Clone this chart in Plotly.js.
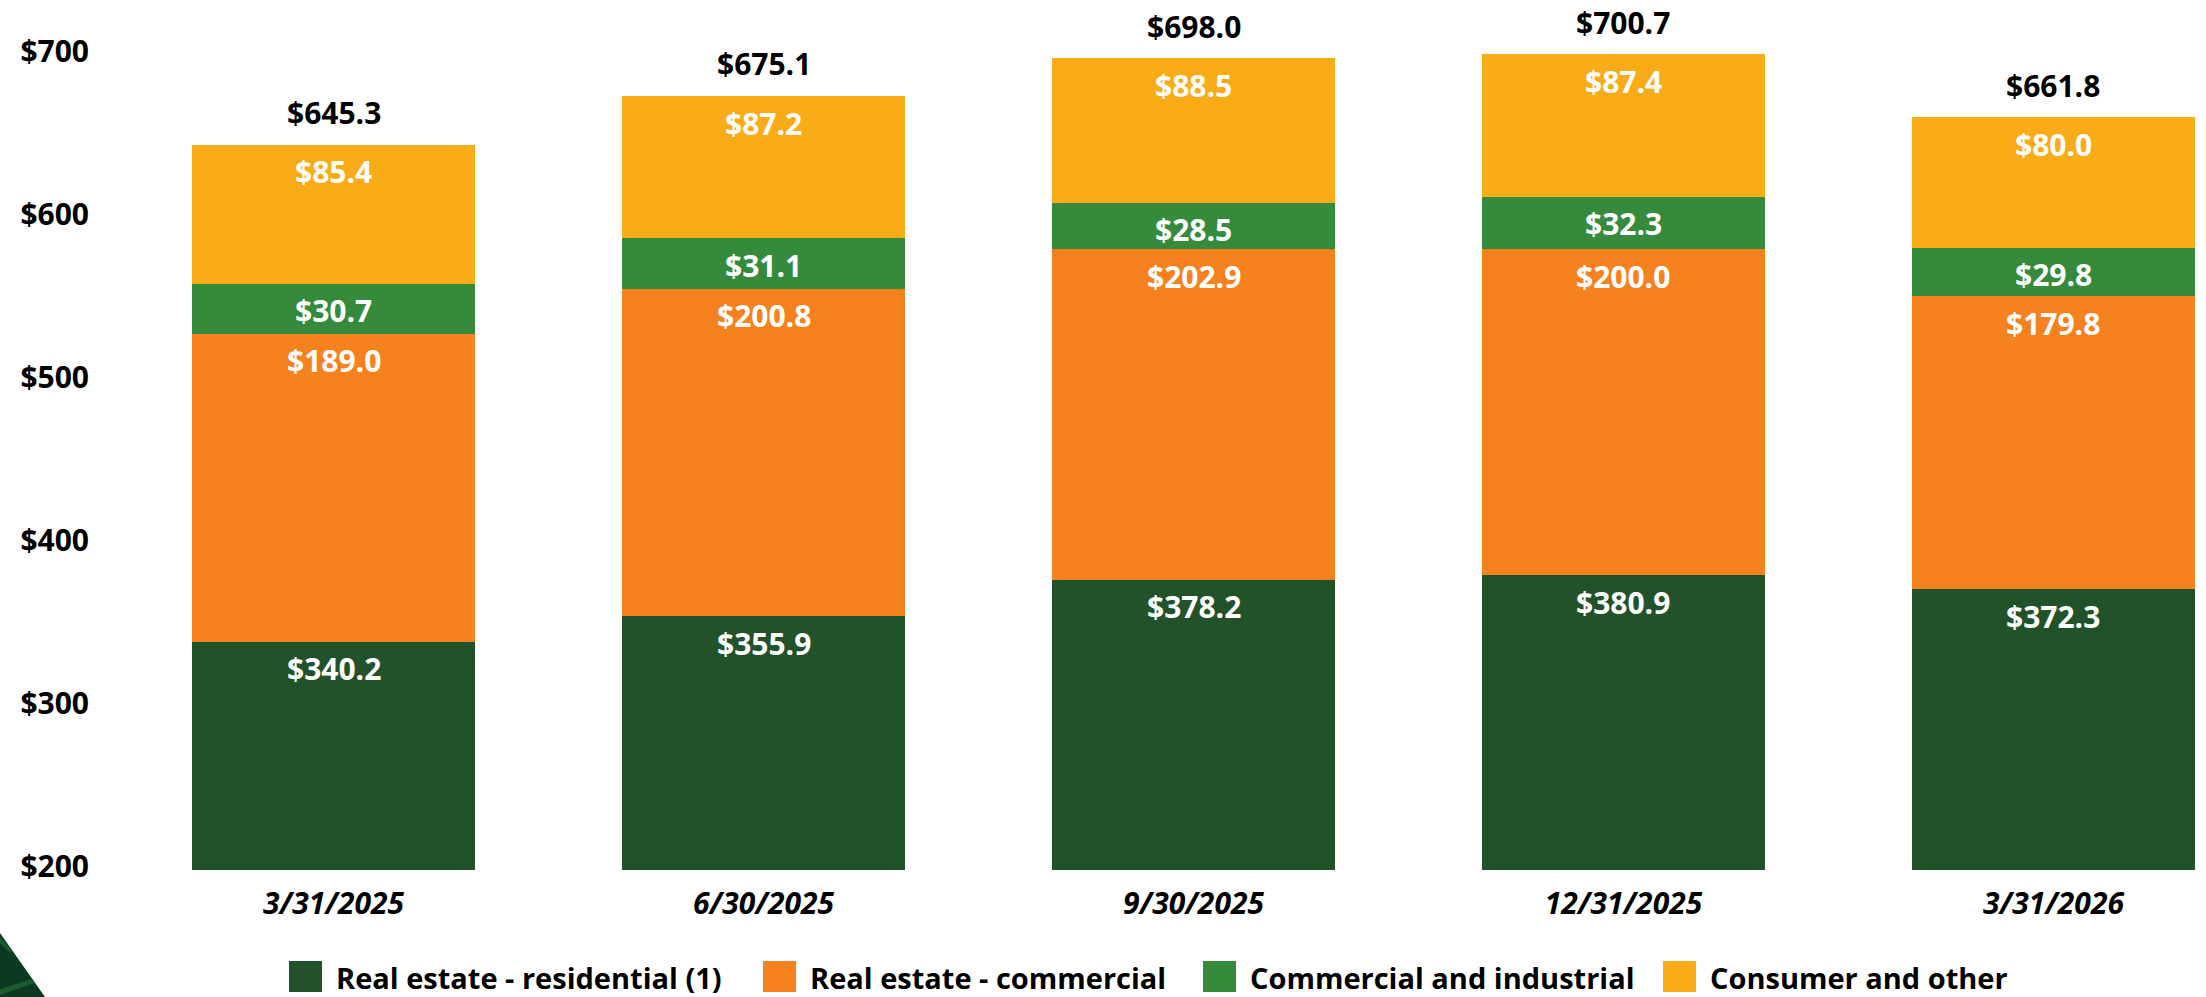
<!DOCTYPE html>
<html>
<head>
<meta charset="utf-8">
<script src="https://cdn.plot.ly/plotly-3.0.1.min.js"></script>
<style>
  html, body { margin: 0; padding: 0; background: #ffffff; }
  #chart { width: 2206px; height: 997px; }
</style>
</head>
<body>
<div id="chart"></div>
<script>
// ---- data ----
const categories = ['3/31/2025', '6/30/2025', '9/30/2025', '12/31/2025', '3/31/2026'];
const residential = [340.2, 355.9, 378.2, 380.9, 372.3];
const commercialRE = [189.0, 200.8, 202.9, 200.0, 179.8];
const commercialIndustrial = [30.7, 31.1, 28.5, 32.3, 29.8];
const consumerOther = [85.4, 87.2, 88.5, 87.4, 80.0];
const totals = [645.3, 675.1, 698.0, 700.7, 661.8];
const seriesNames = ['Real estate - residential (1)', 'Real estate - commercial', 'Commercial and industrial', 'Consumer and other'];
const yTickVals = [200, 300, 400, 500, 600, 700];
const yTickText = ['$200', '$300', '$400', '$500', '$600', '$700'];

// ---- styles ----
const colors = ['#22522A', '#F6821F', '#368A3C', '#F9AC18'];
const FONT = 'Open Sans, Noto Sans, sans-serif';
const W = 2206, H = 997, ML = 95, MR = 0, MT = 0, MB = 127;
const PW = W - ML - MR, PH = H - MT - MB;
const px2x = p => (p - ML) / PW;
const py2y = p => (H - MB - p) / PH;

const seriesValues = [residential, commercialRE, commercialIndustrial, consumerOther];

const traces = seriesValues.map((vals, i) => ({
  type: 'bar',
  name: seriesNames[i],
  x: categories,
  y: vals,
  marker: { color: colors[i], line: { width: 0 } },
  hoverinfo: 'skip',
  showlegend: false
}));

const annotations = [];
// segment labels
categories.forEach((c, j) => {
  let cum = 0;
  seriesValues.forEach((vals, i) => {
    cum += vals[j];
    annotations.push({
      x: c, y: cum, xref: 'x', yref: 'y',
      text: '$' + vals[j].toFixed(1),
      showarrow: false, yanchor: 'middle', yshift: -27,
      font: { family: FONT, size: 30, color: '#ffffff', weight: 700 }
    });
  });
  annotations.push({
    x: c, y: totals[j], xref: 'x', yref: 'y',
    text: '$' + totals[j].toFixed(1),
    showarrow: false, yanchor: 'middle', yshift: 32,
    font: { family: FONT, size: 30, color: '#000000', weight: 700 }
  });
});

// custom legend
const shapes = [];
const legendSwatchX = [289, 763, 1203, 1663];
seriesNames.forEach((n, i) => {
  shapes.push({
    type: 'rect', xref: 'paper', yref: 'paper', layer: 'above',
    x0: px2x(legendSwatchX[i]), x1: px2x(legendSwatchX[i] + 33),
    y0: py2y(992), y1: py2y(961),
    fillcolor: colors[i], line: { width: 0 }
  });
  annotations.push({
    xref: 'paper', yref: 'paper',
    x: px2x(legendSwatchX[i] + 45), y: py2y(977),
    xanchor: 'left', yanchor: 'middle', showarrow: false,
    text: n,
    font: { family: FONT, size: 29, color: '#000000', weight: 700 }
  });
});

// decorative corner triangle
const tri = (pts) => 'M ' + pts.map(p => px2x(p[0]) + ',' + py2y(p[1])).join(' L ') + ' Z';
shapes.push({
  type: 'path', xref: 'paper', yref: 'paper', layer: 'above',
  path: tri([[0, 933], [45, 997], [0, 997]]),
  fillcolor: '#0B3A22', line: { width: 0 }
});
shapes.push({
  type: 'path', xref: 'paper', yref: 'paper', layer: 'above',
  path: tri([[0, 937], [12, 950], [10, 953], [0, 943]]),
  fillcolor: '#1B5B2E', line: { width: 0 }
});
shapes.push({
  type: 'path', xref: 'paper', yref: 'paper', layer: 'above',
  path: tri([[0, 989], [32, 979], [35, 983], [0, 995]]),
  fillcolor: '#1B5B2E', line: { width: 0 }
});

const layout = {
  width: W, height: H,
  margin: { l: ML, r: MR, t: MT, b: MB, pad: 0 },
  paper_bgcolor: '#ffffff', plot_bgcolor: '#ffffff',
  barmode: 'stack',
  bargap: 0.34,
  showlegend: false,
  xaxis: {
    type: 'category',
    range: [-0.5547, 4.3547],
    showgrid: false, zeroline: false, showline: false, ticks: '',
    tickfont: { family: FONT, size: 30, color: '#000000', weight: 700, style: 'italic' },
    ticklabelstandoff: 13
  },
  yaxis: {
    range: [200, 734],
    tickvals: yTickVals, ticktext: yTickText,
    showgrid: false, zeroline: false, showline: false, ticks: '',
    tickfont: { family: FONT, size: 30, color: '#000000', weight: 700 },
    ticklabelstandoff: 5,
    ticklabelshift: -4
  },
  annotations: annotations,
  shapes: shapes
};

Plotly.newPlot('chart', traces, layout, { displayModeBar: false, staticPlot: true });
</script>
</body>
</html>
